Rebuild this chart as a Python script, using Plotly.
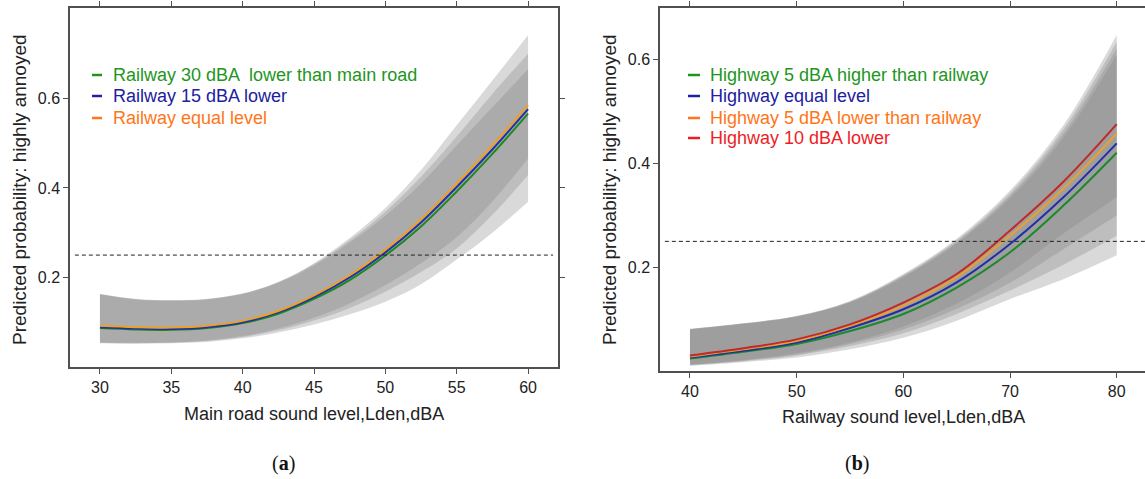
import plotly.graph_objects as go

W, H = 1145, 479

# ---------------- Panel (a) data ----------------
xa = [30, 32.5, 35, 37.5, 40, 42.5, 45, 47.5, 50, 52.5, 55, 57.5, 60]
a_equal = [0.092, 0.089, 0.088, 0.092, 0.103, 0.125, 0.160, 0.205, 0.262, 0.330, 0.410, 0.495, 0.585]
a_15 = [0.089, 0.086, 0.085, 0.089, 0.100, 0.122, 0.156, 0.200, 0.256, 0.323, 0.402, 0.486, 0.576]
a_30 = [0.087, 0.084, 0.083, 0.087, 0.098, 0.119, 0.152, 0.194, 0.249, 0.314, 0.392, 0.476, 0.566]

a_band1_up = [0.163, 0.152, 0.149, 0.152, 0.164, 0.190, 0.232, 0.288, 0.355, 0.440, 0.540, 0.640, 0.741]
a_band1_lo = [0.053, 0.052, 0.053, 0.056, 0.064, 0.077, 0.095, 0.118, 0.146, 0.185, 0.240, 0.300, 0.369]
a_band2_up = [0.163, 0.152, 0.149, 0.152, 0.164, 0.190, 0.230, 0.283, 0.347, 0.425, 0.515, 0.610, 0.700]
a_band2_lo = [0.054, 0.053, 0.054, 0.058, 0.067, 0.082, 0.104, 0.132, 0.168, 0.212, 0.265, 0.340, 0.429]
a_band3_up = [0.162, 0.151, 0.148, 0.151, 0.163, 0.188, 0.227, 0.278, 0.338, 0.410, 0.495, 0.580, 0.665]
a_band3_lo = [0.055, 0.054, 0.055, 0.059, 0.069, 0.086, 0.110, 0.142, 0.183, 0.232, 0.290, 0.370, 0.466]

a_names = ["Railway 30 dBA  lower than main road", "Railway 15 dBA lower", "Railway equal level"]

# ---------------- Panel (b) data ----------------
xb = [40, 45, 50, 55, 60, 65, 70, 75, 80]
b_p5 = [0.024, 0.037, 0.052, 0.077, 0.110, 0.161, 0.229, 0.319, 0.421]
b_eq = [0.026, 0.039, 0.055, 0.083, 0.119, 0.171, 0.245, 0.335, 0.439]
b_m5 = [0.028, 0.042, 0.058, 0.087, 0.126, 0.181, 0.261, 0.352, 0.458]
b_m10 = [0.030, 0.044, 0.061, 0.090, 0.132, 0.187, 0.271, 0.365, 0.476]

b_band1_up = [0.081, 0.092, 0.106, 0.135, 0.187, 0.255, 0.348, 0.474, 0.648]
b_band1_lo = [0.010, 0.017, 0.026, 0.042, 0.064, 0.097, 0.139, 0.177, 0.223]
b_band2_up = [0.081, 0.092, 0.106, 0.134, 0.185, 0.252, 0.343, 0.466, 0.635]
b_band2_lo = [0.011, 0.019, 0.030, 0.048, 0.073, 0.110, 0.155, 0.205, 0.261]
b_band3_up = [0.081, 0.091, 0.105, 0.133, 0.183, 0.249, 0.338, 0.458, 0.622]
b_band3_lo = [0.012, 0.020, 0.032, 0.052, 0.080, 0.120, 0.170, 0.235, 0.300]
b_band4_up = [0.080, 0.091, 0.105, 0.132, 0.181, 0.246, 0.333, 0.450, 0.610]
b_band4_lo = [0.012, 0.021, 0.034, 0.055, 0.086, 0.130, 0.190, 0.265, 0.335]

b_names = ["Highway 5 dBA higher than railway", "Highway equal level",
           "Highway 5 dBA lower than railway", "Highway 10 dBA lower"]

threshold = 0.25
a_xticks = [30, 35, 40, 45, 50, 55, 60]
b_xticks = [40, 50, 60, 70, 80]
yticks = [0.2, 0.4, 0.6]
ytick_labels = ["0.2", "0.4", "0.6"]

# ---------------- styling ----------------
BAND = "rgba(128,128,128,0.30)"
a_line_cols = ["#1a8a1a", "#2030b0", "#f0a020"]
a_text_cols = ["#1e961e", "#2020a0", "#ff7518"]
b_line_cols = ["#1a8a2a", "#2030a8", "#e8a030", "#c0282a"]
b_text_cols = ["#1e961e", "#2020a0", "#ff7518", "#ee1c25"]
FONT = "Liberation Sans, Arial, sans-serif"
AXC = "#505050"


def px(x):
    return x / W


def py(y):
    return 1 - y / H


fig = go.Figure()


def band(x, up, lo, xa_, ya_):
    fig.add_trace(go.Scatter(x=x, y=lo, mode="lines",
                             line=dict(width=0, shape="spline", color="rgba(0,0,0,0)"),
                             showlegend=False, hoverinfo="skip", xaxis=xa_, yaxis=ya_))
    fig.add_trace(go.Scatter(x=x, y=up, mode="lines", fill="tonexty", fillcolor=BAND,
                             line=dict(width=0, shape="spline", color="rgba(0,0,0,0)"),
                             showlegend=False, hoverinfo="skip", xaxis=xa_, yaxis=ya_))


for up, lo in [(a_band1_up, a_band1_lo), (a_band2_up, a_band2_lo), (a_band3_up, a_band3_lo)]:
    band(xa, up, lo, "x", "y")
for up, lo in [(b_band1_up, b_band1_lo), (b_band2_up, b_band2_lo),
               (b_band3_up, b_band3_lo), (b_band4_up, b_band4_lo)]:
    band(xb, up, lo, "x2", "y2")

for ys, c, n in zip([a_30, a_15, a_equal], a_line_cols, a_names):
    fig.add_trace(go.Scatter(x=xa, y=ys, mode="lines", line=dict(color=c, width=2, shape="spline"),
                             name=n, showlegend=False, xaxis="x", yaxis="y"))
for ys, c, n in zip([b_p5, b_eq, b_m5, b_m10], b_line_cols, b_names):
    fig.add_trace(go.Scatter(x=xb, y=ys, mode="lines", line=dict(color=c, width=2, shape="spline"),
                             name=n, showlegend=False, xaxis="x2", yaxis="y2"))

axis_common = dict(showline=True, linecolor=AXC, linewidth=1.5,
                   ticks="outside", ticklen=5, tickcolor=AXC, tickwidth=1.2,
                   showgrid=False, zeroline=False,
                   tickfont=dict(family=FONT, size=16, color="#222"))

fig.update_layout(
    width=W, height=H, margin=dict(l=0, r=0, t=0, b=0),
    paper_bgcolor="white", plot_bgcolor="white", showlegend=False,
    xaxis=dict(domain=[px(70), px(558)], range=[27.9, 62.1], tickvals=a_xticks,
               anchor="y", mirror="allticks", **axis_common),
    yaxis=dict(domain=[py(367), py(8)], range=[0.0, 0.802], tickvals=yticks,
               ticktext=ytick_labels, anchor="x", mirror="allticks", **axis_common),
    xaxis2=dict(domain=[px(660), 1.0], range=[37.19, 82.65], tickvals=b_xticks,
                anchor="y2", mirror="allticks", **axis_common),
    yaxis2=dict(domain=[py(371), py(8)], range=[0.0, 0.70], tickvals=yticks,
                ticktext=ytick_labels, anchor="x2", mirror=False, **axis_common),
)

# threshold lines
fig.add_shape(type="line", xref="x domain", yref="y", x0=0.01, x1=0.99,
              y0=threshold, y1=threshold, line=dict(color="#222", width=1, dash="4px,3px"))
fig.add_shape(type="line", xref="x2 domain", yref="y2", x0=0.01, x1=1.0,
              y0=threshold, y1=threshold, line=dict(color="#222", width=1, dash="4px,3px"))

# legends (text labels with coloured dashes)
for i, (n, lc, tc) in enumerate(zip(a_names, a_line_cols, a_text_cols)):
    yy = [75, 96, 118][i]
    fig.add_shape(type="line", xref="paper", yref="paper", x0=px(92), x1=px(102),
                  y0=py(yy), y1=py(yy), line=dict(color=tc, width=2.5))
    fig.add_annotation(xref="paper", yref="paper", x=px(111), y=py(yy), text=n,
                       showarrow=False, xanchor="left", yanchor="middle",
                       font=dict(family=FONT, size=18, color=tc))
for i, (n, lc, tc) in enumerate(zip(b_names, b_line_cols, b_text_cols)):
    yy = [75, 96, 118, 138][i]
    fig.add_shape(type="line", xref="paper", yref="paper", x0=px(688), x1=px(700),
                  y0=py(yy), y1=py(yy), line=dict(color=tc, width=2.5))
    fig.add_annotation(xref="paper", yref="paper", x=px(708), y=py(yy), text=n,
                       showarrow=False, xanchor="left", yanchor="middle",
                       font=dict(family=FONT, size=18, color=tc))

# axis titles
title_font = dict(family=FONT, size=18, color="#222")
ytitle_font = dict(family=FONT, size=19, color="#222")
fig.add_annotation(xref="paper", yref="paper", x=px(314), y=py(414),
                   text="Main road sound level,Lden,dBA", showarrow=False,
                   xanchor="center", yanchor="middle", font=title_font)
fig.add_annotation(xref="paper", yref="paper", x=px(903), y=py(417),
                   text="Railway sound level,Lden,dBA", showarrow=False,
                   xanchor="center", yanchor="middle", font=title_font)
fig.add_annotation(xref="paper", yref="paper", x=px(20), y=py(190),
                   text="Predicted probability: highly annoyed", showarrow=False,
                   textangle=-90, xanchor="center", yanchor="middle", font=ytitle_font)
fig.add_annotation(xref="paper", yref="paper", x=px(610), y=py(190),
                   text="Predicted probability: highly annoyed", showarrow=False,
                   textangle=-90, xanchor="center", yanchor="middle", font=ytitle_font)

# captions
cap_font = dict(family="Liberation Serif, DejaVu Serif, serif", size=20, color="#111")
fig.add_annotation(xref="paper", yref="paper", x=px(283), y=py(463), text="(<b>a</b>)",
                   showarrow=False, xanchor="center", yanchor="middle", font=cap_font)
fig.add_annotation(xref="paper", yref="paper", x=px(857), y=py(463), text="(<b>b</b>)",
                   showarrow=False, xanchor="center", yanchor="middle", font=cap_font)

fig.write_html("out.html")
